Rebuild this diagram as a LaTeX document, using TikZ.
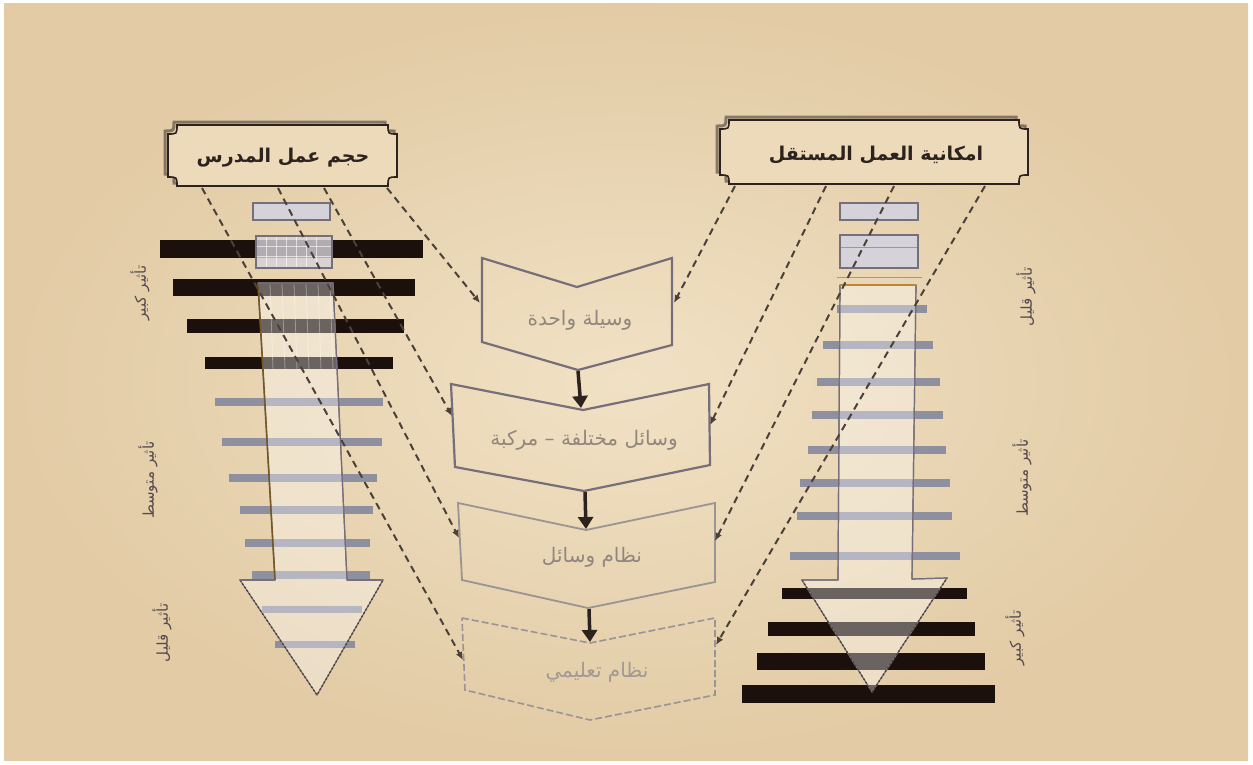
\documentclass[tikz,border=0pt]{standalone}
\usepackage{fontspec}
\TeXXeTstate=1
\newfontfamily\arabicfont[Script=Arabic]{DejaVu Sans}
\usetikzlibrary{arrows.meta}
\definecolor{bglight}{RGB}{241,225,196}
\definecolor{bgedge}{RGB}{226,203,165}
\definecolor{bgtan}{RGB}{237,218,186}
\definecolor{ink}{RGB}{45,35,30}
\definecolor{dashc}{RGB}{75,65,58}
\definecolor{boxgray}{RGB}{118,110,122}
\definecolor{boxlight}{RGB}{155,148,148}
\definecolor{bargray}{RGB}{142,144,160}
\definecolor{barblack}{RGB}{28,16,12}
\definecolor{txtgray}{RGB}{145,135,128}
\definecolor{labelgray}{RGB}{85,75,78}
\definecolor{shadowc}{RGB}{70,60,55}
\definecolor{shaftbrown}{RGB}{115,88,40}
\definecolor{shaftorange}{RGB}{185,135,55}
\definecolor{gridfill}{RGB}{185,182,192}
\tikzset{
  dashconn/.style={draw=dashc, line width=2pt, dash pattern=on 7pt off 5pt, -{Latex[length=8pt,width=7pt]}},
  bigarrow/.style={draw=ink, line width=3.5pt, -{Triangle[length=12pt,width=15pt]}},
  chevron/.style={draw=boxgray, line width=2.2pt, line join=miter},
  blackbar/.style={fill=barblack},
  graybar/.style={fill=bargray},
  boxtext/.style={font=\arabicfont\fontsize{20}{24}\selectfont, text=txtgray},
  sidelabel/.style={font=\arabicfont\fontsize{15}{18}\selectfont, text=labelgray, rotate=90},
  toptext/.style={font=\arabicfont\bfseries\fontsize{19}{23}\selectfont, text=ink},
  plaque/.style={fill=bgtan, draw=ink, line width=1.6pt},
  plaqueshadow/.style={draw=shadowc, line width=3pt, opacity=0.6},
  arrowbody/.style={fill=white, fill opacity=0.35, draw=boxgray, line width=1.2pt},
  headedge/.style={draw=dashc, line width=1.3pt, dash pattern=on 2pt off 2pt},
  smallrect/.style={fill=gridfill!60!white, draw=boxgray, line width=1.4pt},
}
\begin{document}
\begin{tikzpicture}[x=1pt,y=-1pt]
\useasboundingbox (0,0) rectangle (1253,764);
\fill[white] (0,0) rectangle (1253,764);
\shade[inner color=bglight, outer color=bgedge] (4,3) rectangle (1248,760);

% ---------- top plaques ----------
\draw[plaqueshadow] (174,122) -- (385,122) .. controls (385,131) .. (394,131) -- (394,174) .. controls (385,174) .. (385,183) -- (174,183) .. controls (174,174) .. (165,174) -- (165,131) .. controls (174,131) .. (174,122) -- cycle;
\draw[plaque] (177,125) -- (388,125) .. controls (388,134) .. (397,134) -- (397,177) .. controls (388,177) .. (388,186) -- (177,186) .. controls (177,177) .. (168,177) -- (168,134) .. controls (177,134) .. (177,125) -- cycle;
\node[toptext] (tl) at (283,158) {\beginR حجم عمل المدرس\endR};

\draw[plaqueshadow] (726,117) -- (1016,117) .. controls (1016,126) .. (1025,126) -- (1025,172) .. controls (1016,172) .. (1016,181) -- (726,181) .. controls (726,172) .. (717,172) -- (717,126) .. controls (726,126) .. (726,117) -- cycle;
\draw[plaque] (729,120) -- (1019,120) .. controls (1019,129) .. (1028,129) -- (1028,175) .. controls (1019,175) .. (1019,184) -- (729,184) .. controls (729,175) .. (720,175) -- (720,129) .. controls (729,129) .. (729,120) -- cycle;
\node[toptext] (tr) at (876,155) {\beginR امكانية العمل المستقل\endR};

% ---------- left bars ----------
\fill[blackbar] (160,240) rectangle (423,258);
\fill[blackbar] (173,279) rectangle (415,296);
\fill[blackbar] (187,319) rectangle (404,333);
\fill[blackbar] (205,357) rectangle (393,369);
\fill[graybar] (215,398) rectangle (383,406);
\fill[graybar] (222,438) rectangle (382,446);
\fill[graybar] (229,474) rectangle (377,482);
\fill[graybar] (240,506) rectangle (373,514);
\fill[graybar] (245,539) rectangle (370,547);
\fill[graybar] (252,571) rectangle (370,579);
\fill[graybar] (262,606) rectangle (362,613);
\fill[graybar] (275,641) rectangle (355,648);

% left small rectangles
\filldraw[smallrect] (253,203) rectangle (330,220);
\filldraw[smallrect, fill opacity=0.8] (256,236) rectangle (332,268);
\foreach \gx in {266,276,286,296,306,316} \draw[white, opacity=0.6, line width=0.8pt] (\gx,237) -- (\gx,267);
\foreach \gy in {246,256} \draw[white, opacity=0.6, line width=0.8pt] (257,\gy) -- (331,\gy);

% left big arrow
\path[arrowbody] (258,283) -- (333,283) -- (347,580) -- (383,580) -- (317,695) -- (240,580) -- (275,580) -- cycle;
\foreach \gx in {270,282,294,306,318,330} \draw[white, opacity=0.35, line width=0.8pt] (\gx,284) -- (\gx+3,370);
\draw[shaftbrown, line width=1.6pt] (258,283) -- (275,580);
\draw[boxgray, line width=1.2pt] (258,283) -- (333,283) -- (347,580);
\draw[headedge] (240,580) -- (317,695) -- (383,580);
\draw[boxgray, line width=1.2pt] (240,580) -- (275,580) (347,580) -- (383,580);

% ---------- right bars ----------
\fill[graybar] (837,305) rectangle (927,313);
\fill[graybar] (823,341) rectangle (933,349);
\fill[graybar] (817,378) rectangle (940,386);
\fill[graybar] (812,411) rectangle (943,419);
\fill[graybar] (808,446) rectangle (946,454);
\fill[graybar] (800,479) rectangle (950,487);
\fill[graybar] (797,512) rectangle (952,520);
\fill[graybar] (790,552) rectangle (960,560);
\fill[blackbar] (782,588) rectangle (967,599);
\fill[blackbar] (768,622) rectangle (975,636);
\fill[blackbar] (757,653) rectangle (985,670);
\fill[blackbar] (742,685) rectangle (995,703);

% right small rectangles
\filldraw[smallrect] (840,203) rectangle (918,220);
\filldraw[smallrect] (840,235) rectangle (918,268);
\draw[boxgray, opacity=0.6, line width=0.8pt] (841,247) -- (917,247);
\draw[boxlight!70!red, opacity=0.7, line width=1pt] (837,277) -- (922,277);

% right big arrow
\path[arrowbody] (840,285) -- (916,285) -- (912,579) -- (947,578) -- (872,692) -- (802,580) -- (838,580) -- cycle;
\draw[boxgray, line width=1.2pt] (840,285) -- (838,580) (916,285) -- (912,579);
\draw[shaftorange, line width=1.6pt] (840,285) -- (916,285);
\draw[headedge] (802,580) -- (872,692) -- (947,578);
\draw[boxgray, line width=1.2pt] (802,580) -- (838,580) (912,579) -- (947,578);

% ---------- centre chevrons ----------
\draw[chevron] (482,258) -- (577,287) -- (672,258) -- (672,345) -- (578,370) -- (482,342) -- cycle;
\node[boxtext] (b1) at (580,320) {\beginR وسيلة واحدة\endR};
\draw[chevron] (451,384) -- (583,410) -- (709,384) -- (710,465) -- (584,491) -- (455,467) -- cycle;
\node[boxtext] (b2) at (584,440) {\beginR وسائل مختلفة – مركبة\endR};
\draw[chevron, draw=boxlight, line width=1.8pt] (458,503) -- (586,530) -- (715,503) -- (715,582) -- (588,608) -- (462,580) -- cycle;
\node[boxtext] (b3) at (592,557) {\beginR نظام وسائل\endR};
\draw[chevron, draw=boxlight, line width=1.6pt, dash pattern=on 7pt off 3pt] (462,618) -- (590,643) -- (715,618) -- (715,695) -- (590,720) -- (465,690) -- cycle;
\node[boxtext, text=txtgray!85!white] (b4) at (597,672) {\beginR نظام تعليمي\endR};

% connection points
\coordinate (b1tip) at (578,371);
\coordinate (b2top) at (581,408);
\coordinate (b2tip) at (585,492);
\coordinate (b3top) at (586,529);
\coordinate (b3tip) at (589,609);
\coordinate (b4top) at (590,642);
\coordinate (b1w) at (480,303);
\coordinate (b2w) at (452,416);
\coordinate (b3w) at (459,538);
\coordinate (b4w) at (463,660);
\coordinate (b1e) at (674,303);
\coordinate (b2e) at (710,425);
\coordinate (b3e) at (715,541);
\coordinate (b4e) at (716,645);
\coordinate (tlA) at (202,188);
\coordinate (tlB) at (278,188);
\coordinate (tlC) at (324,188);
\coordinate (tlD) at (387,188);
\coordinate (trA) at (735,186);
\coordinate (trB) at (826,186);
\coordinate (trC) at (894,186);
\coordinate (trD) at (985,186);

\draw[bigarrow] (b1tip) -- (b2top);
\draw[bigarrow] (b2tip) -- (b3top);
\draw[bigarrow] (b3tip) -- (b4top);

\draw[dashconn] (tlD) -- (b1w);
\draw[dashconn] (tlC) -- (b2w);
\draw[dashconn] (tlB) -- (b3w);
\draw[dashconn] (tlA) -- (b4w);
\draw[dashconn] (trA) -- (b1e);
\draw[dashconn] (trB) -- (b2e);
\draw[dashconn] (trC) -- (b3e);
\draw[dashconn] (trD) -- (b4e);

% ---------- side labels ----------
\node[sidelabel] (l1) at (140,293) {\beginR تأثير كبير\endR};
\node[sidelabel] (l2) at (148,480) {\beginR تأثير متوسط\endR};
\node[sidelabel] (l3) at (162,633) {\beginR تأثير قليل\endR};
\node[sidelabel] (r1) at (1026,297) {\beginR تأثير قليل\endR};
\node[sidelabel] (r2) at (1022,478) {\beginR تأثير متوسط\endR};
\node[sidelabel] (r3) at (1015,638) {\beginR تأثير كبير\endR};
\end{tikzpicture}
\end{document}
